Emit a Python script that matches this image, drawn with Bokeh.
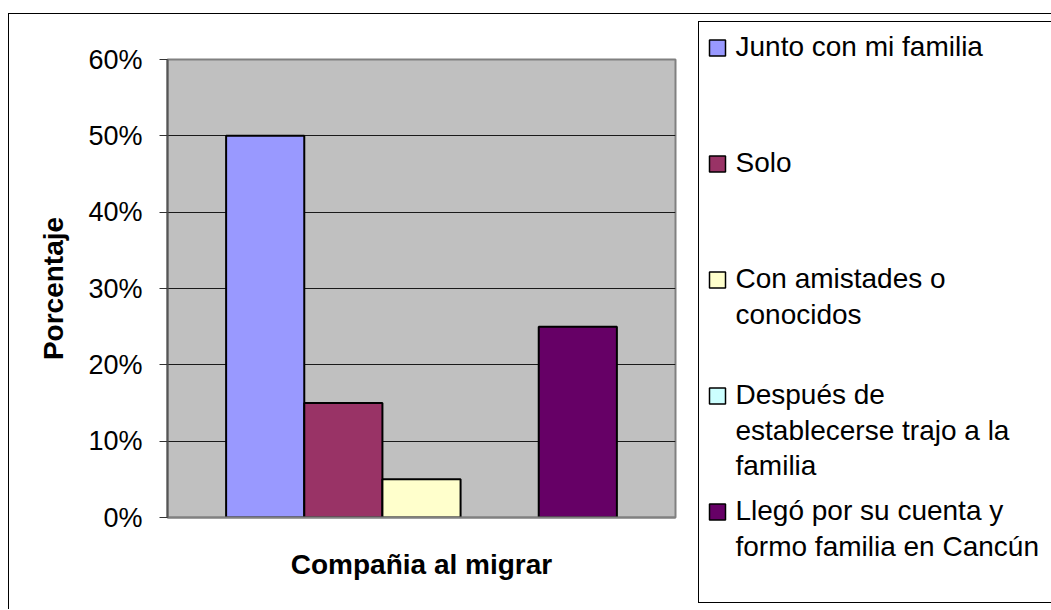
from bokeh.plotting import figure
from bokeh.models import Range1d, NumeralTickFormatter, FixedTicker, ColumnDataSource, Div
from bokeh.embed import file_html
from bokeh.resources import INLINE
from bokeh.core.properties import value

# ---- data ----
categories = ["Junto con mi familia", "Solo", "Con amistades o conocidos",
              "Después de establecerse trajo a la familia",
              "Llegó por su cuenta y formo familia en Cancún"]
legend_labels = ["Junto con mi familia", "Solo", "Con amistades o\nconocidos",
                 "Después de\nestablecerse trajo a la\nfamilia",
                 "Llegó por su cuenta y\nformo familia en Cancún"]
values = [0.50, 0.15, 0.05, 0.0, 0.25]
colors = ["#9999FF", "#993366", "#FFFFCC", "#CCFFFF", "#660066"]
y_ticks = [0, 0.1, 0.2, 0.3, 0.4, 0.5, 0.6]
x_title = "Compañia al migrar"
y_title = "Porcentaje"

FONT = "Liberation Sans"

# ---- main chart ----
p = figure(width=697, height=600, output_backend="svg", toolbar_location=None,
           x_range=Range1d(-1.25, 5.25), y_range=Range1d(0, 0.6),
           min_border_left=167, min_border_right=22, min_border_top=59, min_border_bottom=83)
p.background_fill_color = "#C0C0C0"
p.border_fill_color = "white"
p.outline_line_color = "#808080"
p.outline_line_width = 2

src = ColumnDataSource(dict(
    x=list(range(len(values))), top=values, color=colors,
    la=[1.0 if v > 0 else 0.0 for v in values], name=categories))
p.vbar(x="x", top="top", bottom=0, width=1, fill_color="color", line_color="black",
       line_alpha="la", line_width=2, source=src)

p.xgrid.visible = False
p.ygrid.ticker = FixedTicker(ticks=y_ticks)
p.ygrid.grid_line_color = "#1a1a1a"
p.ygrid.grid_line_width = 1

yax = p.yaxis[0]
yax.ticker = FixedTicker(ticks=y_ticks)
yax.formatter = NumeralTickFormatter(format="0%")
yax.major_label_text_font = FONT
yax.major_label_text_font_size = "27px"
yax.major_label_text_color = "black"
yax.major_label_standoff = 17
yax.major_tick_out = 8
yax.major_tick_in = 0
yax.major_tick_line_color = "#333333"
yax.minor_tick_line_color = None
yax.axis_line_color = "#555555"
yax.axis_line_width = 2
yax.axis_label = y_title
yax.axis_label_text_font = FONT
yax.axis_label_text_font_size = "28px"
yax.axis_label_text_font_style = "bold"
yax.axis_label_text_color = "black"
yax.axis_label_standoff = 16

xax = p.xaxis[0]
xax.ticker = FixedTicker(ticks=[])
xax.major_label_text_font_size = "0px"
xax.major_tick_line_color = None
xax.minor_tick_line_color = None
xax.axis_line_color = "#808080"
xax.axis_line_width = 2
xax.axis_label = x_title
xax.axis_label_text_font = FONT
xax.axis_label_text_font_size = "28px"
xax.axis_label_text_font_style = "bold"
xax.axis_label_text_color = "black"
xax.axis_label_standoff = 31

# ---- legend panel ----
leg = figure(width=353, height=582, output_backend="svg", toolbar_location=None,
             x_range=Range1d(0, 353), y_range=Range1d(582, 0),
             x_axis_type=None, y_axis_type=None,
             min_border_left=0, min_border_right=0, min_border_top=0, min_border_bottom=0,
             styles={"position": "absolute", "left": "698px", "top": "21px"})
leg.grid.visible = False
leg.outline_line_color = None
leg.background_fill_color = "white"
leg.border_fill_color = "white"

n = len(legend_labels)
yc = [26.5 + 116 * i for i in range(n)]
leg.rect(x=[19] * n, y=yc, width=16, height=16, fill_color=colors,
         line_color="black", line_width=1.5)
leg.text(x=[37] * n, y=[c - 17 for c in yc], text=legend_labels,
         text_font=value(FONT), text_font_size="28px", text_baseline="top",
         text_line_height=1.15, text_color="black")

# legend box and outer chart border
legend_box = Div(text="", width=353, height=582, margin=0,
                 styles={"position": "absolute", "left": "698px", "top": "21px",
                         "box-sizing": "border-box", "border-top": "1px solid black",
                         "border-left": "1px solid black", "border-bottom": "1px solid black",
                         "pointer-events": "none"})
outer_box = Div(text="", width=1043, height=596, margin=0,
                styles={"position": "absolute", "left": "8px", "top": "13px",
                        "box-sizing": "border-box", "border-top": "1px solid black",
                        "border-left": "1px solid black", "pointer-events": "none"})

open("out.html", "w").write(file_html([p, leg, legend_box, outer_box], INLINE))
